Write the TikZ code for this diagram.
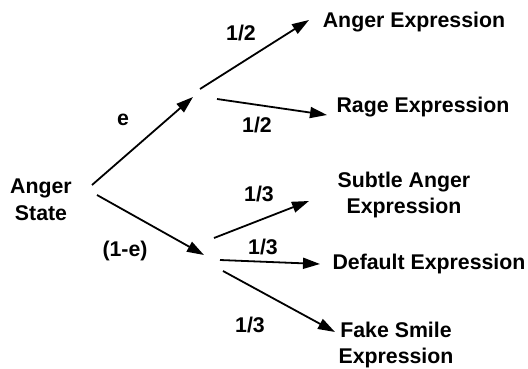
\documentclass[tikz,border=0pt]{standalone}
\usepackage{fontspec}
\setmainfont{Liberation Sans}
\usetikzlibrary{arrows.meta}
\begin{document}
\begin{tikzpicture}[x=1pt,y=-1pt,
  lbl/.style={font=\bfseries\fontsize{21.3}{26.5}\selectfont, inner sep=0pt, align=center},
  arr/.style={line width=1.8pt, -{Triangle[length=17pt,width=11pt]}}]
\useasboundingbox (0,0) rectangle (528,369);

% outcome labels
\node[lbl] (state)  at (41,200)  {Anger\\State};
\node[lbl] (anger)  at (414,22)  {Anger Expression};
\node[lbl] (rage)   at (423,107) {Rage Expression};
\node[lbl] (subtle) at (404,195) {Subtle Anger\\Expression};
\node[lbl] (deflt)  at (429,264) {Default Expression};
\node[lbl] (fake)   at (396,345) {Fake Smile\\Expression};

% probabilities
\node[lbl] (pe)   at (123,120) {e};
\node[lbl] (pne)  at (125,251) {(1-e)};
\node[lbl] (pa)   at (241,33)  {1/2};
\node[lbl] (pr)   at (257,125) {1/2};
\node[lbl] (ps)   at (259,194) {1/3};
\node[lbl] (pd)   at (263,247) {1/3};
\node[lbl] (pf)   at (250,325) {1/3};

% branch end points
\coordinate (e0)  at (92,185);
\coordinate (e1)  at (193,97);
\coordinate (n0)  at (97,195);
\coordinate (n1)  at (204,255);
\coordinate (a0)  at (200,89);
\coordinate (a1)  at (309,20);
\coordinate (r0)  at (217,99);
\coordinate (r1)  at (327,115);
\coordinate (s0)  at (214,238);
\coordinate (s1)  at (309,201);
\coordinate (d0)  at (220,260);
\coordinate (d1)  at (320,264);
\coordinate (f0)  at (223,271);
\coordinate (f1)  at (335,332);

\draw[arr] (e0) -- (e1);
\draw[arr] (n0) -- (n1);
\draw[arr] (a0) -- (a1);
\draw[arr] (r0) -- (r1);
\draw[arr] (s0) -- (s1);
\draw[arr] (d0) -- (d1);
\draw[arr] (f0) -- (f1);
\end{tikzpicture}
\end{document}
